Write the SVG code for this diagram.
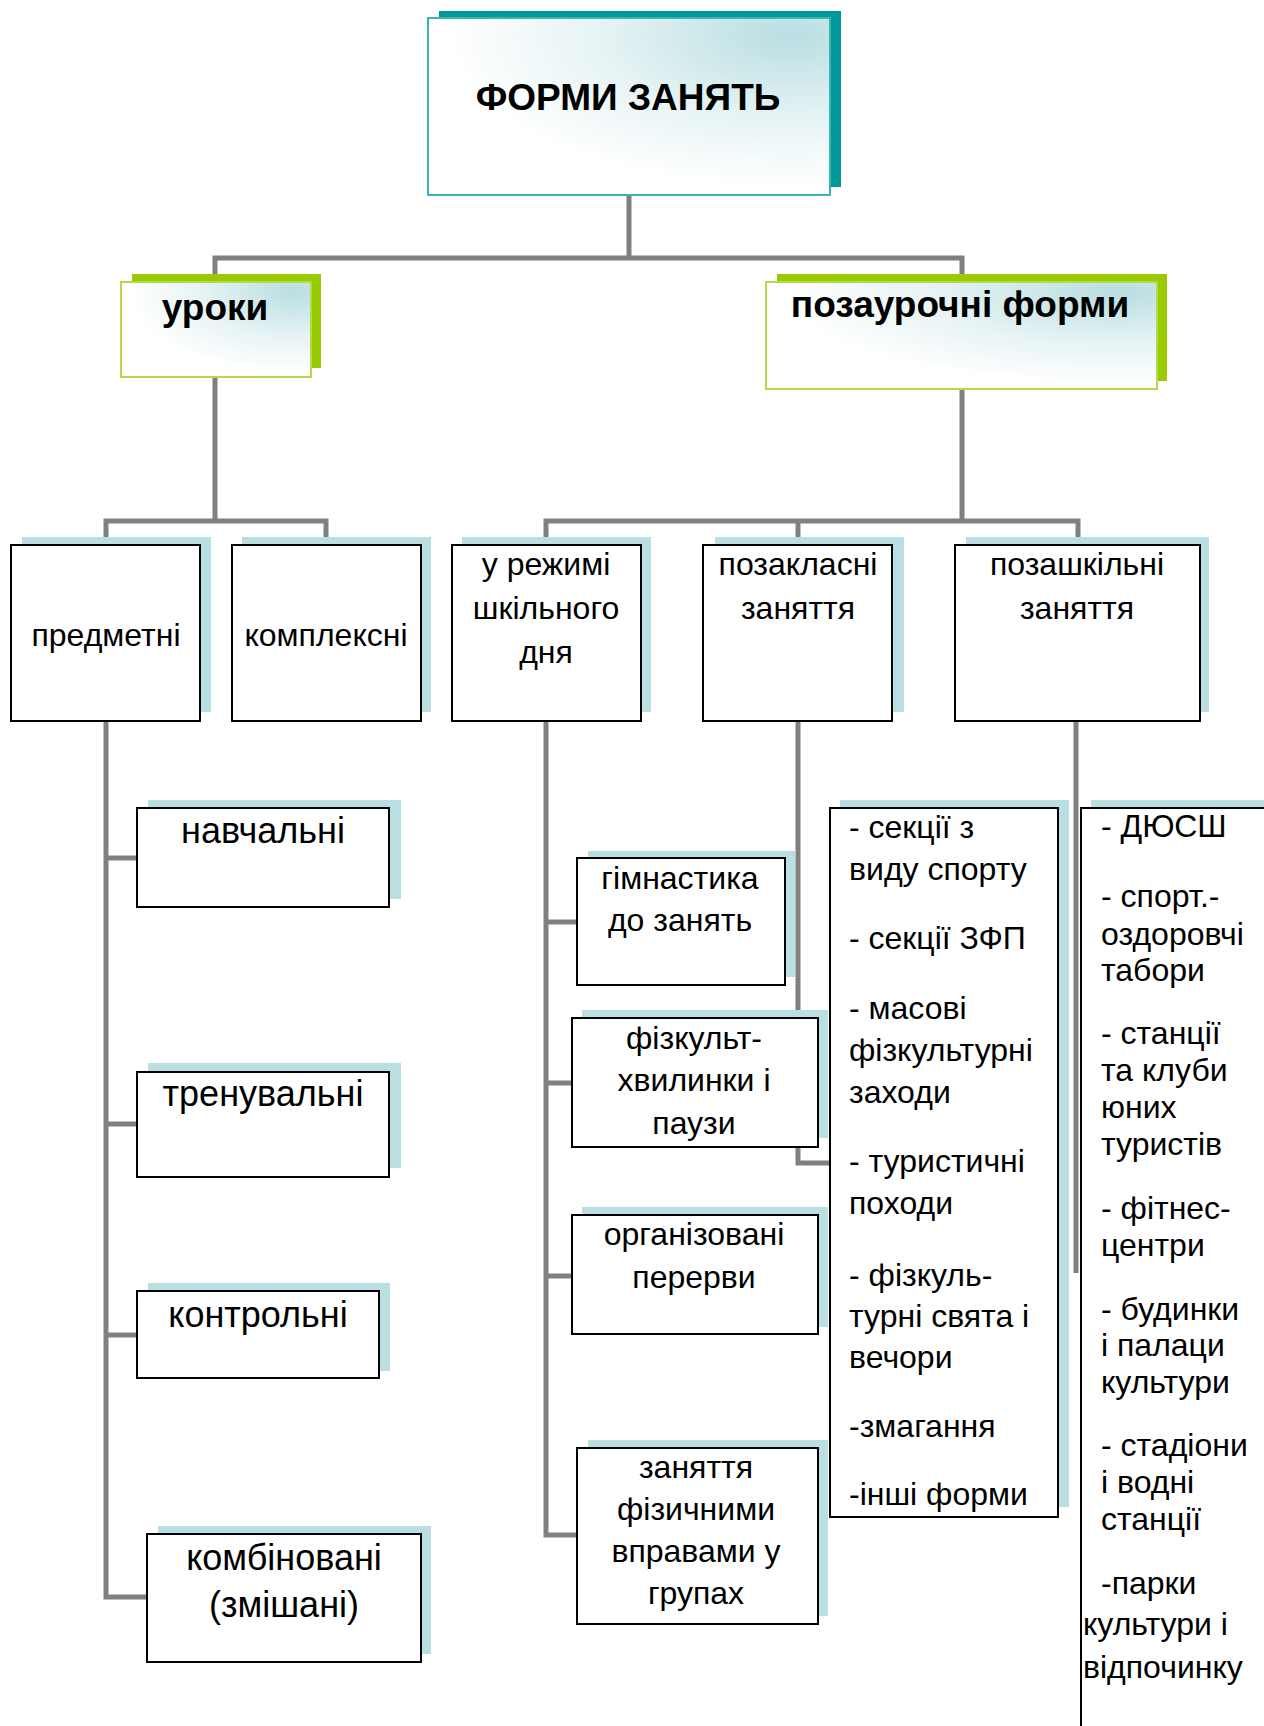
<svg xmlns="http://www.w3.org/2000/svg" width="1264" height="1726" viewBox="0 0 1264 1726">
<defs>
<radialGradient id="hg" cx="0.9" cy="0.1" r="0.85" gradientUnits="objectBoundingBox">
<stop offset="0" stop-color="#B9DEE2"/>
<stop offset="0.55" stop-color="#E6F3F4"/>
<stop offset="1" stop-color="#FFFFFF"/>
</radialGradient>
<style>
text{font-family:"Liberation Sans",Arial,sans-serif;fill:#000}
.h{font-size:37px;font-weight:bold;text-anchor:middle}
.m{font-size:32px;text-anchor:middle}
.b{font-size:36px;text-anchor:middle}
.l{font-size:32px}
.sh{fill:#B9DFE2}
.bx{fill:#fff;stroke:#000;stroke-width:2}
.c{fill:none;stroke:#808080;stroke-width:5;stroke-linejoin:miter;stroke-linecap:butt}
</style>
</defs>
<rect width="1264" height="1726" fill="#fff"/>
<g id="connectors">
<polyline class="c" points="629,195 629,258"/>
<polyline class="c" points="215,282 215,258 962,258 962,282"/>
<polyline class="c" points="215,377 215,521"/>
<polyline class="c" points="106,545 106,521 326,521 326,545"/>
<polyline class="c" points="962,389 962,521"/>
<polyline class="c" points="546,545 546,521 1078,521 1078,545"/>
<polyline class="c" points="798,521 798,545"/>
<polyline class="c" points="106,721 106,1597 147,1597"/>
<polyline class="c" points="106,858 137,858"/>
<polyline class="c" points="106,1124 137,1124"/>
<polyline class="c" points="106,1335 137,1335"/>
<polyline class="c" points="546,721 546,1535 577,1535"/>
<polyline class="c" points="546,922 577,922"/>
<polyline class="c" points="546,1083 572,1083"/>
<polyline class="c" points="546,1276 572,1276"/>
<polyline class="c" points="798,721 798,1163 830,1163"/>
<polyline class="c" points="1076,721 1076,1273"/>
</g>
<g id="n-forms">
<rect x="439" y="11" width="402" height="176" fill="#009999"/>
<rect x="428" y="18" width="402" height="177" fill="url(#hg)" stroke="#3DB3B3" stroke-width="2"/>
<text class="h" x="628" y="110">ФОРМИ ЗАНЯТЬ</text>
</g>
<g id="n-uroky">
<rect x="132" y="274" width="189" height="94" fill="#99CC00"/>
<rect x="121" y="282" width="190" height="95" fill="url(#hg)" stroke="#B3D94D" stroke-width="2"/>
<text class="h" x="215" y="320">уроки</text>
</g>
<g id="n-pozaurochni">
<rect x="777" y="274" width="390" height="107" fill="#99CC00"/>
<rect x="766" y="282" width="391" height="107" fill="url(#hg)" stroke="#B3D94D" stroke-width="2"/>
<text class="h" x="960" y="317">позаурочні форми</text>
</g>
<g id="n-predmetni">
<rect class="sh" x="22" y="537" width="189" height="175"/>
<rect class="bx" x="11" y="545" width="189" height="176"/>
<text class="m" x="106" y="646">предметні</text>
</g>
<g id="n-kompleksni">
<rect class="sh" x="242" y="537" width="189" height="175"/>
<rect class="bx" x="232" y="545" width="189" height="176"/>
<text class="m" x="326" y="646">комплексні</text>
</g>
<g id="n-rezhym">
<rect class="sh" x="462" y="537" width="189" height="175"/>
<rect class="bx" x="452" y="545" width="189" height="176"/>
<text class="m" x="546" y="575">у режимі</text>
<text class="m" x="546" y="619">шкільного</text>
<text class="m" x="546" y="663">дня</text>
</g>
<g id="n-pozaklasni">
<rect class="sh" x="715" y="537" width="189" height="175"/>
<rect class="bx" x="703" y="545" width="189" height="176"/>
<text class="m" x="798" y="575">позакласні</text>
<text class="m" x="798" y="619">заняття</text>
</g>
<g id="n-pozashkilni">
<rect class="sh" x="966" y="537" width="243" height="175"/>
<rect class="bx" x="955" y="545" width="245" height="176"/>
<text class="m" x="1077" y="575">позашкільні</text>
<text class="m" x="1077" y="619">заняття</text>
</g>
<g id="n-navchalni">
<rect class="sh" x="148" y="800" width="253" height="99"/>
<rect class="bx" x="137" y="808" width="252" height="99"/>
<text class="b" x="263" y="843">навчальні</text>
</g>
<g id="n-trenuvalni">
<rect class="sh" x="148" y="1063" width="253" height="105"/>
<rect class="bx" x="137" y="1072" width="252" height="105"/>
<text class="b" x="263" y="1106">тренувальні</text>
</g>
<g id="n-kontrolni">
<rect class="sh" x="148" y="1283" width="242" height="88"/>
<rect class="bx" x="137" y="1291" width="242" height="87"/>
<text class="b" x="258" y="1327">контрольні</text>
</g>
<g id="n-kombinovani">
<rect class="sh" x="158" y="1526" width="273" height="128"/>
<rect class="bx" x="147" y="1534" width="274" height="128"/>
<text class="b" x="284" y="1570">комбіновані</text>
<text class="b" x="284" y="1617">(змішані)</text>
</g>
<g id="n-gimnastyka">
<rect class="sh" x="588" y="851" width="207" height="126"/>
<rect class="bx" x="577" y="858" width="208" height="127"/>
<text class="m" x="680" y="889">гімнастика</text>
<text class="m" x="680" y="931">до занять</text>
</g>
<g id="n-fizkult">
<rect class="sh" x="582" y="1010" width="246" height="128"/>
<rect class="bx" x="572" y="1018" width="246" height="129"/>
<text class="m" x="694" y="1049">фізкульт-</text>
<text class="m" x="694" y="1091">хвилинки і</text>
<text class="m" x="694" y="1134">паузи</text>
</g>
<g id="n-orhanizovani">
<rect class="sh" x="582" y="1207" width="246" height="120"/>
<rect class="bx" x="572" y="1215" width="246" height="119"/>
<text class="m" x="694" y="1245">організовані</text>
<text class="m" x="694" y="1288">перерви</text>
</g>
<g id="n-zaniattia">
<rect class="sh" x="588" y="1440" width="240" height="176"/>
<rect class="bx" x="577" y="1448" width="241" height="176"/>
<text class="m" x="696" y="1478">заняття</text>
<text class="m" x="696" y="1520">фізичними</text>
<text class="m" x="696" y="1562">вправами у</text>
<text class="m" x="696" y="1604">групах</text>
</g>
<g id="n-list-pozaklasni">
<rect class="sh" x="840" y="800" width="229" height="707"/>
<rect class="bx" x="830" y="808" width="228" height="709"/>
<text class="l" x="849" y="838">- секції з</text>
<text class="l" x="849" y="880">виду спорту</text>
<text class="l" x="849" y="949">- секції ЗФП</text>
<text class="l" x="849" y="1019">- масові</text>
<text class="l" x="849" y="1061">фізкультурні</text>
<text class="l" x="849" y="1103">заходи</text>
<text class="l" x="849" y="1172">- туристичні</text>
<text class="l" x="849" y="1214">походи</text>
<text class="l" x="849" y="1286">- фізкуль-</text>
<text class="l" x="849" y="1327">турні свята і</text>
<text class="l" x="849" y="1368">вечори</text>
<text class="l" x="849" y="1437">-змагання</text>
<text class="l" x="849" y="1505">-інші форми</text>
</g>
<g id="n-list-pozashkilni">
<rect class="sh" x="1091" y="800" width="300" height="1000"/>
<rect class="bx" x="1081" y="808" width="300" height="1000"/>
<text class="l" x="1101" y="837">- ДЮСШ</text>
<text class="l" x="1101" y="907">- спорт.-</text>
<text class="l" x="1101" y="945">оздоровчі</text>
<text class="l" x="1101" y="981">табори</text>
<text class="l" x="1101" y="1044">- станції</text>
<text class="l" x="1101" y="1081">та клуби</text>
<text class="l" x="1101" y="1118">юних</text>
<text class="l" x="1101" y="1155">туристів</text>
<text class="l" x="1101" y="1219">- фітнес-</text>
<text class="l" x="1101" y="1256">центри</text>
<text class="l" x="1101" y="1320">- будинки</text>
<text class="l" x="1101" y="1356">і палаци</text>
<text class="l" x="1101" y="1393">культури</text>
<text class="l" x="1101" y="1456">- стадіони</text>
<text class="l" x="1101" y="1493">і водні</text>
<text class="l" x="1101" y="1530">станції</text>
<text class="l" x="1101" y="1594">-парки</text>
<text class="l" x="1083" y="1635">культури і</text>
<text class="l" x="1083" y="1678">відпочинку</text>
</g>
</svg>
